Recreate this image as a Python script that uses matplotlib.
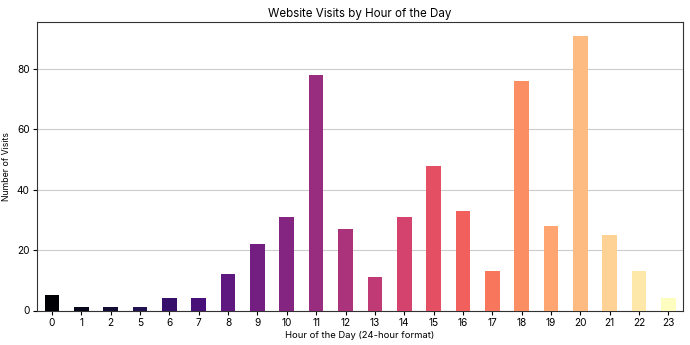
import matplotlib as mpl
import matplotlib.pyplot as plt
import numpy as np

mpl.rcParams['font.family'] = ['Inter', 'DejaVu Sans']

hours = ['0', '1', '2', '5', '6', '7', '8', '9', '10', '11', '12', '13',
         '14', '15', '16', '17', '18', '19', '20', '21', '22', '23']
visits = [5, 1, 1, 1, 4, 4, 12, 22, 31, 78, 27, 11,
          31, 48, 33, 13, 76, 28, 91, 25, 13, 4]

colors = plt.cm.magma(np.linspace(0, 1, len(hours)))

fig, ax = plt.subplots(figsize=(6.9, 3.45), dpi=100)
x = np.arange(len(hours))
ax.bar(x, visits, width=0.5, color=colors, zorder=3)
ax.set_xticks(x)
ax.set_xticklabels(hours)
ax.set_xlim(-0.5, len(hours) - 0.5)
ax.set_ylim(0, max(visits) * 1.05)
ax.set_yticks([0, 20, 40, 60, 80])
ax.tick_params(axis='both', labelsize=7.3, length=3, width=0.8, pad=2.5)
ax.yaxis.grid(True, color='#cccccc', linewidth=0.8, zorder=0)
ax.set_axisbelow(True)
for s in ax.spines.values():
    s.set_color('#333333')

ax.set_title('Website Visits by Hour of the Day', fontsize=8.3, pad=4)
ax.set_xlabel('Hour of the Day (24-hour format)', fontsize=6.8, labelpad=2)
ax.set_ylabel('Number of Visits', fontsize=6.3, labelpad=4)

plt.subplots_adjust(left=0.054, right=0.99, top=0.936, bottom=0.10)
plt.savefig('out.png')
